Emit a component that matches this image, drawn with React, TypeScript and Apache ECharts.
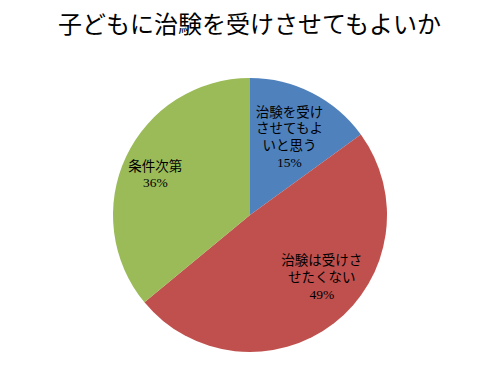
import React, { useEffect, useRef } from "react";
import * as echarts from "echarts";

const titleText = "子どもに治験を受けさせてもよいか";
const categories = ["治験を受け\nさせてもよ\nいと思う", "治験は受けさ\nせたくない", "条件次第"];
const values = [15, 49, 36];
const colors = ["#4F81BD", "#C0504D", "#9BBB59"];
const labelOffsets: [number, number][] = [[7, -14], [28, 6], [-30, -10]];

const FONT = "'Liberation Serif', 'Noto Sans CJK JP', serif";

export default function App() {
  const ref = useRef<HTMLDivElement>(null);
  useEffect(() => {
    if (!ref.current) return;
    const chart = echarts.init(ref.current, undefined, { renderer: "svg" });
    chart.setOption({
      animation: false,
      backgroundColor: "#ffffff",
      title: {
        text: titleText,
        left: "center",
        top: 8,
        textStyle: { fontFamily: FONT, fontSize: 24, fontWeight: "normal", color: "#000" },
      },
      series: [
        {
          type: "pie",
          center: [250, 215],
          radius: [0, 137],
          startAngle: 90,
          clockwise: true,
          itemStyle: { borderWidth: 0 },
          label: {
            show: true,
            position: "inside",
            fontFamily: FONT,
            fontSize: 13.5,
            lineHeight: 16.7,
            color: "#000",
            align: "center",
            formatter: (p: any) => `${p.name}\n${p.value}%`,
          },
          labelLine: { show: false },
          data: categories.map((c, i) => ({
            name: c,
            value: values[i],
            itemStyle: { color: colors[i] },
            label: { offset: labelOffsets[i] },
          })),
        },
      ],
    });
    return () => chart.dispose();
  }, []);
  return <div ref={ref} style={{ position: "fixed", left: 0, top: 0, width: 499, height: 384 }} />;
}
